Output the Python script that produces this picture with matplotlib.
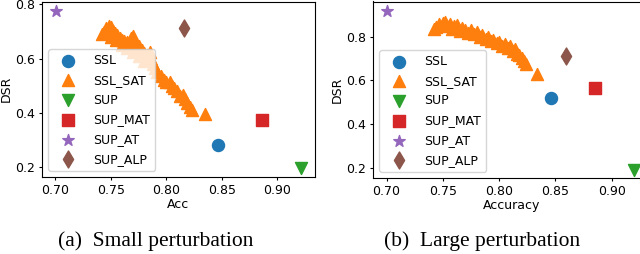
import numpy as np
import matplotlib
matplotlib.use('Agg')
import matplotlib.pyplot as plt

# method names, markers and colours (default tab10 cycle)
METHODS = ['SSL', 'SSL_SAT', 'SUP', 'SUP_MAT', 'SUP_AT', 'SUP_ALP']
MARKERS = ['o', '^', 'v', 's', '*', 'd']

# (a) small perturbation, single-point methods: x = Acc, y = DSR
small_acc = {'SSL': [0.847], 'SUP': [0.921], 'SUP_MAT': [0.886],
             'SUP_AT': [0.701], 'SUP_ALP': [0.816]}
small_dsr = {'SSL': [0.280], 'SUP': [0.195], 'SUP_MAT': [0.373],
             'SUP_AT': [0.777], 'SUP_ALP': [0.713]}

# (a) SSL_SAT sweep
small_sat_acc = [0.742, 0.744, 0.746, 0.748, 0.750, 0.752, 0.754, 0.756, 0.758, 0.760,
                 0.762, 0.765, 0.768, 0.770, 0.772, 0.775, 0.778, 0.780, 0.783, 0.785,
                 0.786, 0.788, 0.790, 0.792, 0.795, 0.798, 0.800, 0.803, 0.805, 0.807,
                 0.810, 0.812, 0.815, 0.817, 0.819, 0.821, 0.823, 0.835,
                 0.750, 0.755, 0.760, 0.765, 0.770, 0.775, 0.780]
small_sat_dsr = [0.690, 0.700, 0.712, 0.722, 0.716, 0.703, 0.694, 0.686, 0.678, 0.670,
                 0.665, 0.660, 0.676, 0.682, 0.662, 0.646, 0.632, 0.622, 0.612, 0.626,
                 0.600, 0.582, 0.566, 0.552, 0.536, 0.522, 0.512, 0.512, 0.500, 0.490,
                 0.480, 0.462, 0.466, 0.450, 0.436, 0.422, 0.410, 0.394,
                 0.680, 0.668, 0.650, 0.640, 0.625, 0.610, 0.590]

# (b) large perturbation, single-point methods
large_acc = {'SSL': [0.846], 'SUP': [0.920], 'SUP_MAT': [0.885],
             'SUP_AT': [0.700], 'SUP_ALP': [0.859]}
large_dsr = {'SSL': [0.521], 'SUP': [0.19], 'SUP_MAT': [0.566],
             'SUP_AT': [0.918], 'SUP_ALP': [0.712]}

# (b) SSL_SAT sweep
large_sat_acc = [0.742, 0.744, 0.747, 0.750, 0.752, 0.754, 0.756, 0.758, 0.760, 0.763,
                 0.765, 0.767, 0.770, 0.772, 0.775, 0.778, 0.780, 0.783, 0.785, 0.788,
                 0.790, 0.793, 0.795, 0.798, 0.800, 0.803, 0.805, 0.808, 0.810, 0.812,
                 0.814, 0.816, 0.818, 0.820, 0.822, 0.824, 0.834]
large_sat_dsr = [0.835, 0.845, 0.855, 0.862, 0.868, 0.850, 0.858, 0.835, 0.848, 0.852,
                 0.825, 0.840, 0.832, 0.815, 0.828, 0.810, 0.820, 0.798, 0.808, 0.790,
                 0.800, 0.778, 0.785, 0.770, 0.775, 0.758, 0.768, 0.748, 0.755, 0.735,
                 0.745, 0.720, 0.715, 0.700, 0.690, 0.675, 0.629]

FS = 9
S = 75


def draw_panel(ax, acc, dsr, sat_acc, sat_dsr, xlabel, ylim):
    colors = plt.rcParams['axes.prop_cycle'].by_key()['color']
    for i, m in enumerate(METHODS):
        if m == 'SSL_SAT':
            x, y = sat_acc, sat_dsr
        else:
            x, y = acc[m], dsr[m]
        ax.scatter(x, y, s=S, marker=MARKERS[i], color=colors[i], label=m)
    ax.set_xlim(0.688, 0.934)
    ax.set_ylim(*ylim)
    ax.set_xticks([0.70, 0.75, 0.80, 0.85, 0.90])
    ax.set_yticks([0.2, 0.4, 0.6, 0.8])
    ax.set_xlabel(xlabel, fontsize=FS, labelpad=1)
    ax.set_ylabel('DSR', fontsize=FS, labelpad=2)
    ax.tick_params(labelsize=FS, length=2.2, pad=2.5)
    ax.legend(loc='lower left', fontsize=FS, labelspacing=0.54,
              handlelength=2.3, handletextpad=0.9)


fig = plt.figure(figsize=(6.4, 2.54), dpi=100)
ax1 = fig.add_axes([42 / 640, 1 - 177 / 254, 273 / 640, 175.5 / 254])
ax2 = fig.add_axes([373 / 640, 1 - 178 / 254, 277 / 640, 176.5 / 254])

draw_panel(ax1, small_acc, small_dsr, small_sat_acc, small_sat_dsr, 'Acc', (0.163, 0.811))
draw_panel(ax2, large_acc, large_dsr, large_sat_acc, large_sat_dsr, 'Accuracy', (0.154, 0.960))

fig.text(156 / 640, 1 - 241 / 254, '(a)  Small perturbation', ha='center', va='center',
         fontsize=15.5, family='Liberation Serif')
fig.text(482 / 640, 1 - 241 / 254, '(b)  Large perturbation', ha='center', va='center',
         fontsize=15.5, family='Liberation Serif')

fig.savefig('out.png', dpi=100)
